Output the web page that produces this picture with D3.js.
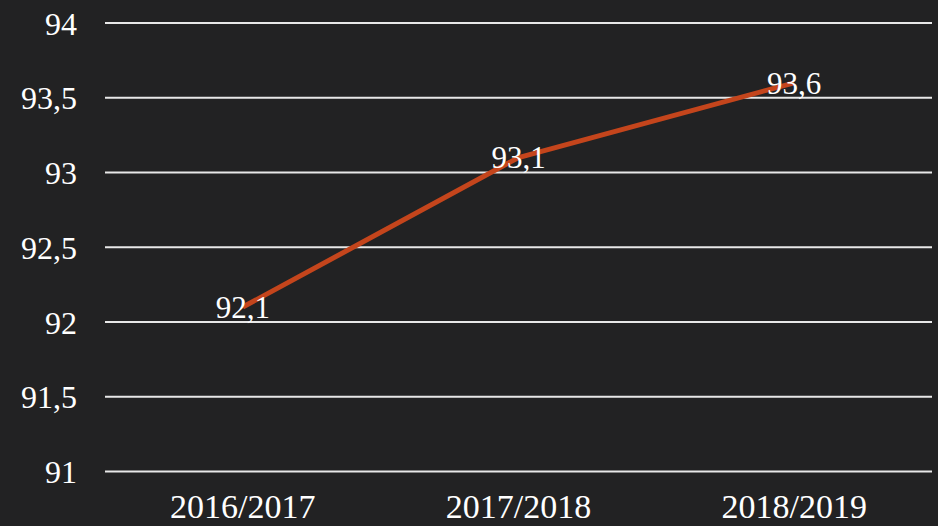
<!DOCTYPE html>
<html>
<head>
<meta charset="utf-8">
<script src="https://cdn.jsdelivr.net/npm/d3@7"></script>
<style>
  html, body { margin: 0; padding: 0; background: #222223; }
  svg { display: block; }
</style>
</head>
<body>
<div id="chart"></div>
<script>
var categories = ['2016/2017', '2017/2018', '2018/2019'];
var values = [92.1, 93.1, 93.6];
var yTicks = [91, 91.5, 92, 92.5, 93, 93.5, 94];

var width = 938, height = 526;
var margin = {top: 23, right: 6, bottom: 54, left: 105};
var serif = '"Liberation Serif", "Times New Roman", serif';

var svg = d3.select('#chart').append('svg')
    .attr('width', width)
    .attr('height', height);

svg.append('rect')
    .attr('width', width)
    .attr('height', height)
    .style('fill', '#222223');

var x = d3.scaleBand()
    .domain(categories)
    .range([margin.left, width - margin.right]);

var y = d3.scaleLinear()
    .domain([91, 94])
    .range([height - margin.bottom - 0.5, margin.top]);

var fmt = function(d) { return String(d).replace('.', ','); };

// gridlines
svg.append('g')
  .selectAll('line')
  .data(yTicks)
  .enter().append('line')
    .attr('x1', margin.left)
    .attr('x2', width - margin.right)
    .attr('y1', function(d) { return y(d); })
    .attr('y2', function(d) { return y(d); })
    .style('stroke', '#e8e8e8')
    .style('stroke-width', 2);

// y labels
var yAxis = d3.axisLeft(y).tickValues(yTicks).tickFormat(fmt).tickSize(0).tickPadding(0);
var gy = svg.append('g')
    .attr('transform', 'translate(' + (margin.left - 28) + ',0)')
    .call(yAxis);
gy.select('.domain').remove();
gy.selectAll('text')
    .attr('dy', '0.35em')
    .style('font-family', serif)
    .style('font-size', '32px')
    .style('fill', '#ffffff');

// x labels
var xAxis = d3.axisBottom(x).tickSize(0).tickPadding(0);
var gx = svg.append('g')
    .attr('transform', 'translate(0,' + (height - 8) + ')')
    .call(xAxis);
gx.select('.domain').remove();
gx.selectAll('text')
    .attr('dy', 0)
    .attr('y', 0)
    .style('font-family', serif)
    .style('font-size', '34px')
    .style('fill', '#ffffff');

// line
var line = d3.line()
    .x(function(d, i) { return x(categories[i]) + x.bandwidth() / 2; })
    .y(function(d) { return y(d); });

svg.append('path')
    .datum(values)
    .attr('d', line)
    .style('fill', 'none')
    .style('stroke', '#c4451c')
    .style('stroke-width', 5)
    .style('stroke-linejoin', 'round');

// data labels
svg.append('g')
  .selectAll('text')
  .data(values)
  .enter().append('text')
    .attr('x', function(d, i) { return x(categories[i]) + x.bandwidth() / 2; })
    .attr('y', function(d) { return y(d); })
    .attr('dy', '0.35em')
    .attr('text-anchor', 'middle')
    .style('font-family', serif)
    .style('font-size', '31px')
    .style('fill', '#ffffff')
    .text(fmt);
</script>
</body>
</html>
